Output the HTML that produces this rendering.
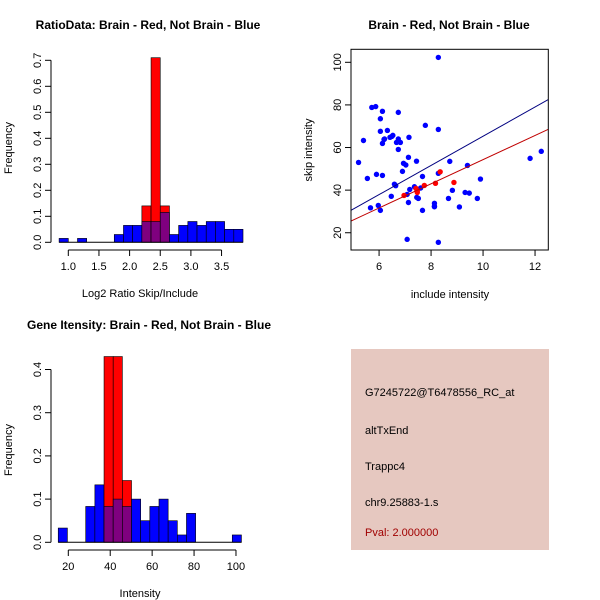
<!DOCTYPE html>
<html><head><meta charset="utf-8"><style>
html,body{margin:0;padding:0;background:#fff;width:600px;height:600px;overflow:hidden}
svg text{font-family:"Liberation Sans",sans-serif;}
</style></head><body>
<svg id="c" width="600" height="600" xmlns="http://www.w3.org/2000/svg">
<rect x="0" y="0" width="600" height="600" fill="#fff"/>
<text x="148" y="29" font-size="12" font-weight="bold" text-anchor="middle">RatioData: Brain - Red, Not Brain - Blue</text>
<text x="449" y="29" font-size="12" font-weight="bold" text-anchor="middle">Brain - Red, Not Brain - Blue</text>
<text x="149" y="329" font-size="12" font-weight="bold" text-anchor="middle">Gene Itensity: Brain - Red, Not Brain - Blue</text>
<text x="140" y="297" font-size="11" text-anchor="middle">Log2 Ratio Skip/Include</text>
<text x="140" y="597" font-size="11" text-anchor="middle">Intensity</text>
<text x="450" y="298" font-size="11" text-anchor="middle">include intensity</text>
<text transform="translate(12,148) rotate(-90)" font-size="11" text-anchor="middle">Frequency</text>
<text transform="translate(12,450) rotate(-90)" font-size="11" text-anchor="middle">Frequency</text>
<text transform="translate(312,150) rotate(-90)" font-size="11" text-anchor="middle">skip intensity</text>
<g>
<rect x="351" y="349" width="198" height="201" fill="#e6c8c0"/>
<text x="365" y="396" font-size="11">G7245722@T6478556_RC_at</text>
<text x="365" y="434" font-size="11">altTxEnd</text>
<text x="365" y="470" font-size="11">Trappc4</text>
<text x="365" y="506" font-size="11">chr9.25883-1.s</text>
<text x="365" y="536" font-size="11" fill="#a00000">Pval: 2.000000</text>
</g>
<g id="h1"></g><g id="h2"></g><g id="sc"></g>
</svg>
<script>
// Ratio histogram data
const ratioBinStart = 0.85, ratioBinWidth = 0.15;
const ratioBlue = [0.015,0,0.015,0,0,0,0.03,0.065,0.065,0.08,0.08,0.115,0.03,0.065,0.08,0.065,0.08,0.08,0.05,0.05];
const ratioRed  = [0,0,0,0,0,0,0,0,0,0.14,0.71,0.14,0,0,0,0,0,0,0,0];
const ratioXTicks = [1.0,1.5,2.0,2.5,3.0,3.5];
const ratioXTickLabels = ["1.0","1.5","2.0","2.5","3.0","3.5"];
const ratioYTicks = [0,0.1,0.2,0.3,0.4,0.5,0.6,0.7];
const ratioYTickLabels = ["0.0","0.1","0.2","0.3","0.4","0.5","0.6","0.7"];
// Intensity histogram data
const intBinStart = 15.2, intBinWidth = 4.37;
const intBlue = [0.033,0,0,0.083,0.133,0.083,0.1,0.083,0.1,0.05,0.083,0.1,0.05,0.017,0.067,0,0,0,0,0.017];
const intRed  = [0,0,0,0,0,0.43,0.43,0.143,0,0,0,0,0,0,0,0,0,0,0,0];
const intXTicks = [20,40,60,80,100];
const intXTickLabels = ["20","40","60","80","100"];
const intYTicks = [0,0.1,0.2,0.3,0.4];
const intYTickLabels = ["0.0","0.1","0.2","0.3","0.4"];
// Scatter data
const blueX = [5.21,5.40,5.55,5.67,5.72,5.87,5.90,5.97,6.05,6.05,6.05,6.13,6.13,6.13,6.19,6.21,6.32,6.42,6.49,6.47,6.53,6.59,6.64,6.67,6.74,6.74,6.74,6.82,6.90,6.94,7.03,7.08,7.08,7.13,7.15,7.18,7.13,7.36,7.44,7.45,7.51,7.60,7.67,7.67,7.78,8.13,8.13,8.13,8.28,8.28,8.28,8.28,8.67,8.72,8.82,9.09,9.31,9.40,9.47,9.78,9.90,11.81,12.24];
const blueY = [53.0,63.3,45.5,31.7,78.8,79.2,47.4,32.8,30.5,73.5,67.6,77.0,61.9,46.9,63.8,64.0,68.0,64.8,65.2,37.1,65.7,42.8,42.1,62.4,76.5,64.0,59.1,62.4,48.8,52.6,51.8,16.9,38.0,55.4,64.8,40.3,34.2,41.6,53.6,36.6,36.1,41.0,30.5,46.4,70.4,33.8,32.5,32.2,102.3,68.5,47.9,15.5,36.1,53.5,39.9,32.1,38.9,51.6,38.6,36.1,45.2,54.9,58.2];
const redX = [6.96,7.42,7.47,7.47,7.74,8.17,8.35,8.88];
const redY = [37.5,40.8,38.9,39.7,42.2,43.2,48.6,43.6];
const blueFit = [-3.2, 6.85]; // intercept, slope
const redFit = [-2.4, 5.67];
const scXTicks = [6,8,10,12];
const scYTicks = [20,40,60,80,100];

const NS="http://www.w3.org/2000/svg";
function mk(parent,tag,attrs){const e=document.createElementNS(NS,tag);for(const k in attrs)e.setAttribute(k,attrs[k]);parent.appendChild(e);return e;}

function hist(g, cfg){
  const {x0,y0,bs,bw,blue,red,xt,xtl,yt,ytl,sx,sy,yax,xay,prefix}=cfg;
  const X=v=>x0+(v-cfg.xv0)*sx, Y=v=>y0-v*sy;
  for(let i=0;i<blue.length;i++){
    const a=bs+i*bw,b=a+bw;
    const bv=blue[i], rv=red[i];
    if(rv>0){
      const r=mk(g,'rect',{x:X(a),y:Y(rv),width:X(b)-X(a),height:Y(0)-Y(rv),fill:'#ff0000',stroke:'#000','stroke-width':0.6});
      
      
    }
    if(bv>0){
      const col = rv>0 ? '#7f007f' : '#0000ff';
      const h=Math.min(bv, rv>0?rv:bv);
      const r=mk(g,'rect',{x:X(a),y:Y(h),width:X(b)-X(a),height:Y(0)-Y(h),fill:col,stroke:'#000','stroke-width':0.6});
      
      
    }
  }
  mk(g,'line',{x1:X(bs),x2:X(bs+bw*blue.length),y1:Y(0),y2:Y(0),stroke:'#000'});
  mk(g,'line',{x1:yax,x2:yax,y1:Y(yt[0]),y2:Y(yt[yt.length-1]),stroke:'#000'});
  yt.forEach((v,i)=>{
    mk(g,'line',{x1:yax-6,x2:yax,y1:Y(v),y2:Y(v),stroke:'#000'});
    const t=mk(g,'text',{transform:`translate(${yax-10},${Y(v)}) rotate(-90)`,'font-size':11,'text-anchor':'middle'});
    t.textContent=ytl[i];
    
    
  });
  mk(g,'line',{x1:X(xt[0]),x2:X(xt[xt.length-1]),y1:xay,y2:xay,stroke:'#000'});
  xt.forEach((v,i)=>{
    mk(g,'line',{x1:X(v),x2:X(v),y1:xay,y2:xay+6,stroke:'#000'});
    const t=mk(g,'text',{x:X(v),y:xay+20,'font-size':11,'text-anchor':'middle'});
    t.textContent=xtl[i];
    
    
  });
}
hist(document.getElementById('h1'),{x0:68.3,xv0:1.0,sx:61.3,y0:242.3,sy:260,bs:ratioBinStart,bw:ratioBinWidth,blue:ratioBlue,red:ratioRed,xt:ratioXTicks,xtl:ratioXTickLabels,yt:ratioYTicks,ytl:ratioYTickLabels,yax:51,xay:250,prefix:'ratio'});
hist(document.getElementById('h2'),{x0:68.3,xv0:20,sx:2.096,y0:542.3,sy:432,bs:intBinStart,bw:intBinWidth,blue:intBlue,red:intRed,xt:intXTicks,xtl:intXTickLabels,yt:intYTicks,ytl:intYTickLabels,yax:51,xay:550,prefix:'intensity'});

(function(){
  const g=document.getElementById('sc');
  const L=351,R=548.3,T=49.3,B=250;
  const xmin=4.92,xmax=12.51,ymin=11.9,ymax=106.1;
  const X=v=>L+(v-xmin)/(xmax-xmin)*(R-L), Y=v=>B-(v-ymin)/(ymax-ymin)*(B-T);
  const cp=mk(g,'clipPath',{id:'cl'});mk(cp,'rect',{x:L,y:T,width:R-L,height:B-T});
  blueX.forEach((v,i)=>{
    const c=mk(g,'circle',{cx:X(v),cy:Y(blueY[i]),r:2.7,fill:'#0000ff'});
    
    
  });
  redX.forEach((v,i)=>{
    const c=mk(g,'circle',{cx:X(v),cy:Y(redY[i]),r:2.7,fill:'#ff0000'});
    
    
  });
  const bl=mk(g,'line',{x1:X(xmin),y1:Y(blueFit[0]+blueFit[1]*xmin),x2:X(xmax),y2:Y(blueFit[0]+blueFit[1]*xmax),stroke:'#000080','clip-path':'url(#cl)'});
  
  
  const rl=mk(g,'line',{x1:X(xmin),y1:Y(redFit[0]+redFit[1]*xmin),x2:X(xmax),y2:Y(redFit[0]+redFit[1]*xmax),stroke:'#c00000','clip-path':'url(#cl)'});
  
  
  mk(g,'rect',{x:L,y:T,width:R-L,height:B-T,fill:'none',stroke:'#000'});
  scXTicks.forEach(v=>{
    mk(g,'line',{x1:X(v),x2:X(v),y1:B,y2:B+6,stroke:'#000'});
    const t=mk(g,'text',{x:X(v),y:B+20,'font-size':11,'text-anchor':'middle'});t.textContent=v;
    
    
  });
  scYTicks.forEach(v=>{
    mk(g,'line',{x1:L-6,x2:L,y1:Y(v),y2:Y(v),stroke:'#000'});
    const t=mk(g,'text',{transform:`translate(${L-10},${Y(v)}) rotate(-90)`,'font-size':11,'text-anchor':'middle'});t.textContent=v;
    
    
  });
})();
</script>
</body></html>
